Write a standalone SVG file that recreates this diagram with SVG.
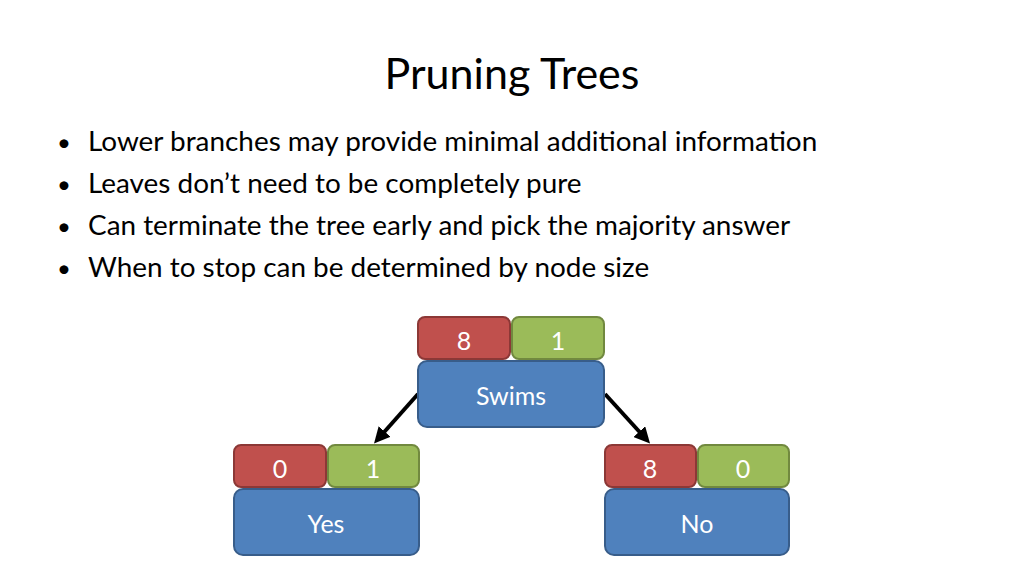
<svg xmlns="http://www.w3.org/2000/svg" width="1024" height="575" viewBox="0 0 1024 575">
<style>
text{font-family:Lato,"Liberation Sans",sans-serif}
.t{font-size:27.9px;fill:#000}
.d{font-size:24px}
.n{font-size:25px;fill:#fff;text-anchor:middle}
.r{fill:#c0504d;stroke:#8c3836;stroke-width:2}
.g{fill:#9bbb59;stroke:#71893f;stroke-width:2}
.b{fill:#4f81bd;stroke:#385d8a;stroke-width:2}
</style>
<defs><marker id="a" markerWidth="4" markerHeight="4" refX="2.5" refY="2" orient="auto"><path d="M0,0L4,2L0,4z" fill="#000"/></marker></defs>
<rect width="1024" height="575" fill="#fff"/>
<text x="512" y="89" font-size="43" text-anchor="middle">Pruning Trees</text>
<g class="t">
<text class="d" x="57" y="151">•</text><text x="88" y="151">Lower branches may provide minimal additional information</text>
<text class="d" x="57" y="193">•</text><text x="88" y="193">Leaves don’t need to be completely pure</text>
<text class="d" x="57" y="235">•</text><text x="88" y="235">Can terminate the tree early and pick the majority answer</text>
<text class="d" x="57" y="277">•</text><text x="88" y="277">When to stop can be determined by node size</text>
</g>
<g id="connectors" stroke="#000" stroke-width="4" marker-end="url(#a)">
<line x1="418" y1="394" x2="378" y2="439"/>
<line x1="605" y1="394" x2="646" y2="439"/>
</g>
<g id="swims">
<rect class="r" x="418" y="317" width="92" height="42" rx="7"/><text class="n" x="464" y="350">8</text>
<rect class="g" x="512" y="317" width="92" height="42" rx="7"/><text class="n" x="558" y="350">1</text>
<rect class="b" x="418" y="361" width="186" height="66" rx="9"/><text class="n" x="511" y="405">Swims</text>
</g>
<g id="yes">
<rect class="r" x="234" y="445" width="92" height="42" rx="7"/><text class="n" x="280" y="478">0</text>
<rect class="g" x="328" y="445" width="91" height="42" rx="7"/><text class="n" x="373" y="478">1</text>
<rect class="b" x="234" y="489" width="185" height="66" rx="9"/><text class="n" x="326" y="533">Yes</text>
</g>
<g id="no">
<rect class="r" x="605" y="445" width="91" height="42" rx="7"/><text class="n" x="650" y="478">8</text>
<rect class="g" x="698" y="445" width="91" height="42" rx="7"/><text class="n" x="743" y="478">0</text>
<rect class="b" x="605" y="489" width="184" height="66" rx="9"/><text class="n" x="697" y="533">No</text>
</g>
</svg>
